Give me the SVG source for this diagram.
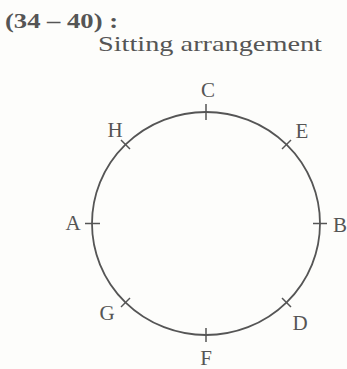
<svg xmlns="http://www.w3.org/2000/svg" width="347" height="369" viewBox="0 0 347 369">
<style>
.t{font-family:"Liberation Serif","DejaVu Serif",serif;fill:#555}
.lbl{font-size:21px;text-anchor:middle}
.tick{stroke:#555;stroke-width:1.5}
</style>
<rect width="347" height="369" fill="#fdfdfb"/>
<text class="t" x="5" y="28" font-size="21" font-weight="bold" fill="#4a4a4a" textLength="113" lengthAdjust="spacingAndGlyphs">(34 – 40) :</text>
<text class="t" x="98" y="51" font-size="21" textLength="224" lengthAdjust="spacingAndGlyphs">Sitting arrangement</text>
<g id="circle"><ellipse cx="206" cy="223.5" rx="114" ry="111.5" fill="none" stroke="#555" stroke-width="1.8"/></g>
<g id="C"><line class="tick" x1="206" y1="104" x2="206" y2="120"/><text class="t lbl" x="208" y="97">C</text></g>
<g id="H"><line class="tick" x1="121" y1="140" x2="130" y2="149"/><text class="t lbl" x="115" y="137">H</text></g>
<g id="E"><line class="tick" x1="291" y1="140" x2="282" y2="149"/><text class="t lbl" x="302" y="138">E</text></g>
<g id="A"><line class="tick" x1="85" y1="223.5" x2="100" y2="223.5"/><text class="t lbl" x="73" y="230">A</text></g>
<g id="B"><line class="tick" x1="313" y1="223.5" x2="327" y2="223.5"/><text class="t lbl" x="340" y="232">B</text></g>
<g id="G"><line class="tick" x1="121" y1="307" x2="130" y2="298"/><text class="t lbl" x="107" y="320">G</text></g>
<g id="D"><line class="tick" x1="291" y1="307" x2="282" y2="298"/><text class="t lbl" x="300" y="330">D</text></g>
<g id="F"><line class="tick" x1="206" y1="328" x2="206" y2="342"/><text class="t lbl" x="206" y="365">F</text></g>
</svg>
